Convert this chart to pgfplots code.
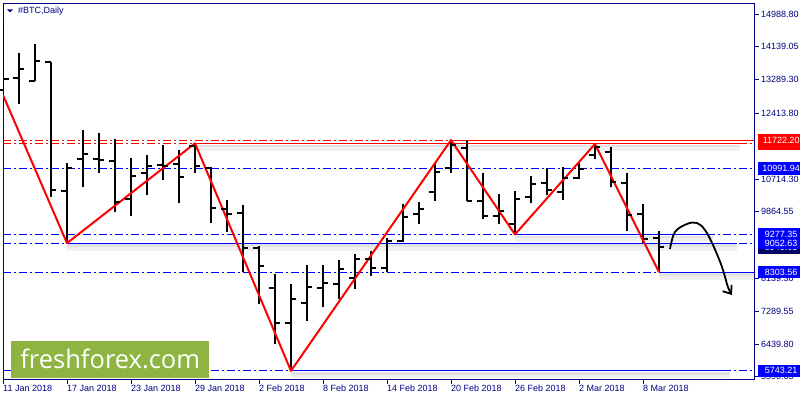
\documentclass[border=0pt]{standalone}
\usepackage{fontspec}
\setmainfont{Liberation Sans}
\newfontfamily\logofont{Open Sans}
\usepackage{pgfplots}
\usepackage{pgfplotstable}
\pgfplotsset{compat=1.18}
\usetikzlibrary{arrows.meta}

\definecolor{mtnavy}{RGB}{0,0,128}
\definecolor{mtblue}{RGB}{0,0,255}
\definecolor{mtred}{RGB}{255,0,0}
\definecolor{ffgreen}{RGB}{142,180,66}

% OHLC bars (bar index, open, high, low, close)
\pgfplotstableread{
x  o      h       l        c
0  13020  14807   12683    13305
1  13331  13979   12657    13564
2  13253  14212   13253    13771
3  13745  13745   10248    10429
4  10404  11129   9052.63  10999
5  11232  11984   10507    11362
6  11232  11906   10870    11207
7  11181  11751   9859     10119
8  10196  11258   9756     10792
9  10870  11336   10300    11051
10 11077  11595   10688    11060
11 11103  11466   10093    10766
12 11569  11639   10870    11051
13 10999  11025   9575     9963
14 9937   10170   9341     9808
15 9834   10041   8305     8927
16 8927   8979    7476     8461
17 7891   8253    6440     6984
18 6984   7994    5743.21  7606
19 7502   8486    7036     7917
20 7891   8486    7398     8020
21 7994   8616    7606     8383
22 8150   8771    7865     8642
23 8642   8849    8202     8409
24 8409   9186    8305     9108
25 9108   10067   9082     9730
26 9808   10119   9549     9937
27 10378  11129   10144    10896
28 11001  11722.2 10870    11595
29 11517  11725   10144    10144
30 10144  10870   9678     9756
31 9756   10326   9549     9885
32 9549   10404   9277.35  10196
33 10248  10792   10093    10585
34 10611  10999   10300    10429
35 10378  11025   10170    10740
36 10740  11129   10714    10973
37 11336  11621   11232    11543
38 11414  11543   10507    10637
39 10611  10870   9367     9782
40 9808   10067   9056     9160
41 9186   9367    8303.56  8940.03
}\bars

\pgfdeclareplotmark{ohlcopen}{%
  \pgfpathmoveto{\pgfpoint{-5.5bp}{0pt}}\pgfpathlineto{\pgfpoint{0pt}{0pt}}\pgfusepathqstroke}
\pgfdeclareplotmark{ohlcclose}{%
  \pgfpathmoveto{\pgfpoint{0pt}{0pt}}\pgfpathlineto{\pgfpoint{5.5bp}{0pt}}\pgfusepathqstroke}

\tikzset{
  dd/.style={dash pattern=on 8bp off 3bp on 2bp off 3bp},
  pricebox/.style={anchor=west, inner xsep=2.5bp, inner ysep=0pt, minimum height=12.5bp,
    minimum width=46bp, text=white, font=\fontsize{9bp}{10bp}\selectfont},
}
\pgfplotsset{
  shadow/.style={draw=gray!12, line width=6bp, yshift=-4.5bp, forget plot},
  shadowcore/.style={draw=gray!22, line width=2.5bp, yshift=-2.5bp, forget plot},
}

\begin{document}
\begin{tikzpicture}
\useasboundingbox (-3bp,-21bp) rectangle (797bp,379bp);
\begin{axis}[
  at={(0,0)}, anchor=south west,
  width=751bp, height=376bp, scale only axis,
  xmin=0, xmax=46.94, ymin=5533.1, ymax=15273.8,
  axis line style={draw=mtnavy, line width=0.8bp},
  xtick={0,4,...,40},
  xticklabels={11 Jan 2018,17 Jan 2018,23 Jan 2018,29 Jan 2018,2 Feb 2018,8 Feb 2018,
    14 Feb 2018,20 Feb 2018,26 Feb 2018,2 Mar 2018,8 Mar 2018},
  ytick={14988.80,14139.05,13289.30,12413.80,10714.30,9864.55,8139.30,7289.55,6439.80,5590.05},
  yticklabels={14988.80,14139.05,13289.30,12413.80,10714.30,9864.55,8139.30,7289.55,6439.80,5590.05},
  xtick pos=bottom, ytick pos=right, yticklabel pos=right,
  tick align=outside, major tick length=5bp,
  tick style={draw=mtnavy, line width=0.8bp},
  ticklabel style={font=\fontsize{9bp}{10bp}\selectfont, text=mtnavy},
  xticklabel style={anchor=north west, inner sep=0pt, yshift=-1bp},
  yticklabel style={anchor=west, inner sep=0pt, xshift=2bp},
]
% shadows under the solid level segments
\addplot[shadow] coordinates {(12,11639) (46.06,11639)};
\addplot[shadow] coordinates {(32,9277.35) (44.4,9277.35)};
\addplot[shadow] coordinates {(4,9052.63) (45.9,9052.63)};
\addplot[shadow] coordinates {(41,8303.56) (46.94,8303.56)};
\addplot[shadow] coordinates {(18,5743.21) (45.44,5743.21)};
\addplot[shadowcore] coordinates {(12,11639) (46.06,11639)};
\addplot[shadowcore] coordinates {(32,9277.35) (44.4,9277.35)};
\addplot[shadowcore] coordinates {(4,9052.63) (45.9,9052.63)};
\addplot[shadowcore] coordinates {(41,8303.56) (46.94,8303.56)};
\addplot[shadowcore] coordinates {(18,5743.21) (45.44,5743.21)};

% dash-dot levels
\addplot[mtred, line width=1bp, dd] coordinates {(0,11722.2) (46.94,11722.2)};
\addplot[mtred, line width=1bp, dd] coordinates {(0,11639) (46.94,11639)};
\addplot[mtblue, line width=1bp, dd] coordinates {(0,10991.94) (46.94,10991.94)};
\addplot[mtblue, line width=1bp, dd] coordinates {(0,9277.35) (46.94,9277.35)};
\addplot[mtblue, line width=1bp, dd] coordinates {(0,9052.63) (46.94,9052.63)};
\addplot[mtblue, line width=1bp, dd] coordinates {(0,8303.56) (46.94,8303.56)};
\addplot[mtblue, line width=1bp, dd] coordinates {(0,5743.21) (46.94,5743.21)};

% solid level segments
\addplot[mtred, line width=1bp] coordinates {(28,11722.2) (46.94,11722.2)};
\addplot[mtred, line width=1bp] coordinates {(12,11639) (46.06,11639)};
\addplot[mtblue, line width=1bp] coordinates {(32,9277.35) (44.4,9277.35)};
\addplot[mtblue, line width=1bp] coordinates {(4,9052.63) (45.9,9052.63)};
\addplot[mtblue, line width=1bp] coordinates {(41,8303.56) (46.94,8303.56)};
\addplot[mtblue, line width=1bp] coordinates {(18,5743.21) (45.44,5743.21)};

% bars: high-low, open, close
\addplot[draw=none, mark=none,
  error bars/.cd, y dir=plus, y explicit, error mark=none,
  error bar style={draw=black, solid, line width=2bp}]
  table[x=x, y=l, y error expr=\thisrow{h}-\thisrow{l}] {\bars};
\addplot[black, only marks, mark=ohlcopen, mark options={line width=2bp}] table[x=x, y=o] {\bars};
\addplot[black, only marks, mark=ohlcclose, mark options={line width=2bp}] table[x=x, y=c] {\bars};

% zigzag
\addplot[mtred, line width=2bp, line join=round] coordinates {
  (0,12890) (4,9052.63) (12,11639) (18,5743.21) (28,11722.2) (32,9277.35) (37,11621) (41,8303.56)};

% hand-drawn forecast arrow
\addplot[black, line width=1.8bp, smooth, tension=0.6, -{Straight Barb[length=7bp,width=11bp]}]
  coordinates {(41.69,8901) (42,9341) (42.75,9549) (43.375,9575) (43.875,9393)
    (44.375,9005) (44.94,8435) (45.31,7917) (45.56,7709)};

\coordinate (Lr1) at (axis cs:46.94,11722.2);
\coordinate (Lr2) at (axis cs:46.94,11639);
\coordinate (Lb1) at (axis cs:46.94,10991.94);
\coordinate (Lb2) at (axis cs:46.94,9277.35);
\coordinate (Lb3) at (axis cs:46.94,9052.63);
\coordinate (Lbid) at (axis cs:46.94,8940.03);
\coordinate (Lb4) at (axis cs:46.94,8303.56);
\coordinate (Lb5) at (axis cs:46.94,5743.21);
\end{axis}

% price labels on the right
\node[pricebox, fill=mtred] at ([xshift=4bp]Lr2) {11639.03};
\node[pricebox, fill=mtred] at ([xshift=4bp]Lr1) {11722.20};
\node[pricebox, fill=mtblue] at ([xshift=4bp]Lb1) {10991.94};
\node[pricebox, fill=mtnavy!80!black] at ([xshift=4bp]Lbid) {8940.03};
\node[pricebox, fill=mtblue] at ([xshift=4bp]Lb2) {9277.35};
\node[pricebox, fill=mtblue] at ([xshift=4bp]Lb3) {9052.63};
\node[pricebox, fill=mtblue] at ([xshift=4bp]Lb4) {8303.56};
\node[pricebox, fill=mtblue] at ([xshift=4bp]Lb5) {5743.21};

% title
\fill[mtnavy] (4bp,369.5bp) -- (10bp,369.5bp) -- (7bp,366.5bp) -- cycle;
\node[anchor=west, inner sep=0pt, text=mtnavy, font=\fontsize{9bp}{10bp}\selectfont] at (15bp,368bp) {\#BTC,Daily};

% logo
\node[fill=ffgreen, minimum width=198bp, minimum height=37bp, inner sep=0pt, anchor=south west,
  text=white, font=\logofont\fontsize{25.5bp}{26bp}\selectfont] at (8bp,1bp) {freshforex.com};
\end{tikzpicture}
\end{document}
